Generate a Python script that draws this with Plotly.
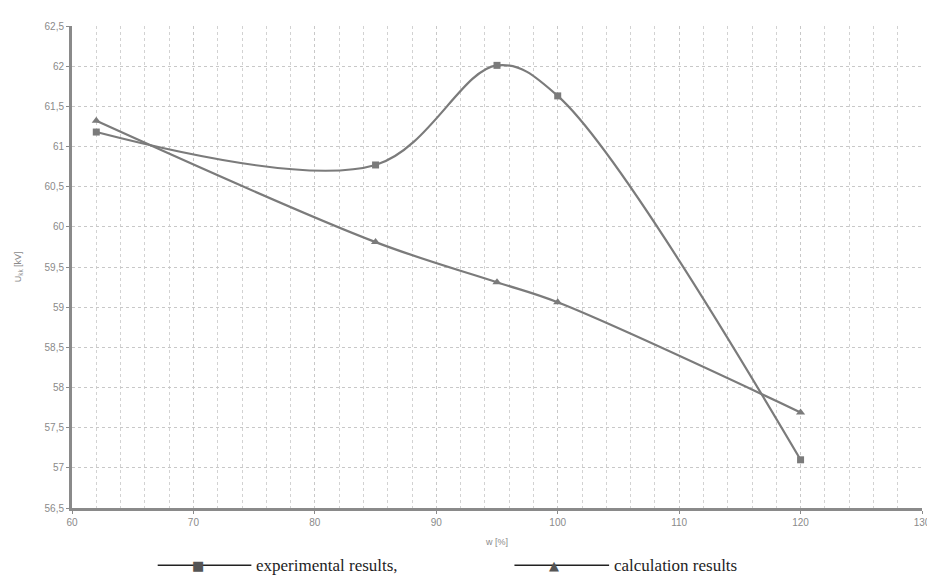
import plotly.graph_objects as go

# Data
x_vals = [62, 85, 95, 100, 120]
experimental = [61.18, 60.77, 62.01, 61.63, 57.10]
calculation = [61.32, 59.81, 59.31, 59.06, 57.69]

x_ticks = [60, 70, 80, 90, 100, 110, 120, 130]
y_ticks = [56.5, 57, 57.5, 58, 58.5, 59, 59.5, 60, 60.5, 61, 61.5, 62, 62.5]

legend_labels = ["experimental results,", "calculation results"]

LINE_C = "#7b7b7b"
W, H = 935, 577
L, R, T, B = 64, 18, 12, 77
PW, PH = W - L - R, H - T - B


def px(X):
    return (X - L) / PW


def py(Y):
    return (H - B - Y) / PH


fig = go.Figure()
fig.add_trace(go.Scatter(
    x=x_vals, y=experimental, mode="lines+markers",
    line=dict(color=LINE_C, width=2.2, shape="spline", smoothing=1.0),
    marker=dict(symbol="square", size=7, color=LINE_C),
    name=legend_labels[0], showlegend=False))
fig.add_trace(go.Scatter(
    x=x_vals, y=calculation, mode="lines+markers",
    line=dict(color=LINE_C, width=2.2, shape="spline", smoothing=1.0),
    marker=dict(symbol="triangle-up", size=8, color=LINE_C),
    name=legend_labels[1], showlegend=False))

fig.update_xaxes(
    range=[60, 130], tickvals=x_ticks, ticktext=[str(v) for v in x_ticks],
    showgrid=True, gridcolor="#c8c8c8", griddash="dot", gridwidth=1,
    minor=dict(dtick=2, tick0=60, showgrid=True, gridcolor="#d2d2d2",
               griddash="dot", gridwidth=1),
    showline=True, linecolor="#8a8a8a", linewidth=3,
    ticks="outside", ticklen=3, tickcolor="#8a8a8a",
    tickfont=dict(family="Arial, Liberation Sans", size=10, color="#8a8a8a"),
    title=dict(text="w [%]", font=dict(family="Arial, Liberation Sans", size=9, color="#8a8a8a"),
               standoff=12),
    zeroline=False, mirror=False)
fig.update_yaxes(
    range=[56.5, 62.5], tickvals=y_ticks,
    showgrid=True, gridcolor="#c8c8c8", griddash="dot", gridwidth=1,
    showline=True, linecolor="#8a8a8a", linewidth=3,
    ticks="outside", ticklen=3, tickcolor="#8a8a8a",
    tickfont=dict(family="Arial, Liberation Sans", size=10, color="#8a8a8a"),
    zeroline=False)

shapes = []
annotations = [
    dict(xref="paper", yref="paper", x=px(10), y=py(256),
         text="U<sub>kk</sub> [kV]", textangle=-90, showarrow=False,
         font=dict(family="Arial, Liberation Sans", size=9, color="#8a8a8a"),
         xanchor="center", yanchor="middle"),
]

# Manual legend below the plot
leg_y = py(558)
items = [
    (150, 244, 190, "■", 13, legend_labels[0], 247),
    (508, 603, 548, "▲", 13, legend_labels[1], 606),
]
for x0, x1, xm, glyph, gsize, label, xt in items:
    shapes.append(dict(type="line", xref="paper", yref="paper",
                       x0=px(x0), x1=px(x1), y0=leg_y, y1=leg_y,
                       line=dict(color="#222222", width=1.5)))
    annotations.append(dict(xref="paper", yref="paper", x=px(xm), y=leg_y,
                            text=glyph, showarrow=False,
                            font=dict(family="DejaVu Sans", size=gsize, color="#555555"),
                            xanchor="center", yanchor="middle"))
    annotations.append(dict(xref="paper", yref="paper", x=px(xt), y=leg_y,
                            text=label, showarrow=False,
                            font=dict(family="Liberation Serif, Times New Roman, serif",
                                      size=17, color="#1e1e1e"),
                            xanchor="left", yanchor="middle"))

fig.update_layout(
    width=W, height=H,
    margin=dict(l=L, r=R, t=T, b=B),
    paper_bgcolor="white", plot_bgcolor="white",
    separators=", ",
    showlegend=False,
    shapes=shapes, annotations=annotations,
)

fig.write_html("out.html")
